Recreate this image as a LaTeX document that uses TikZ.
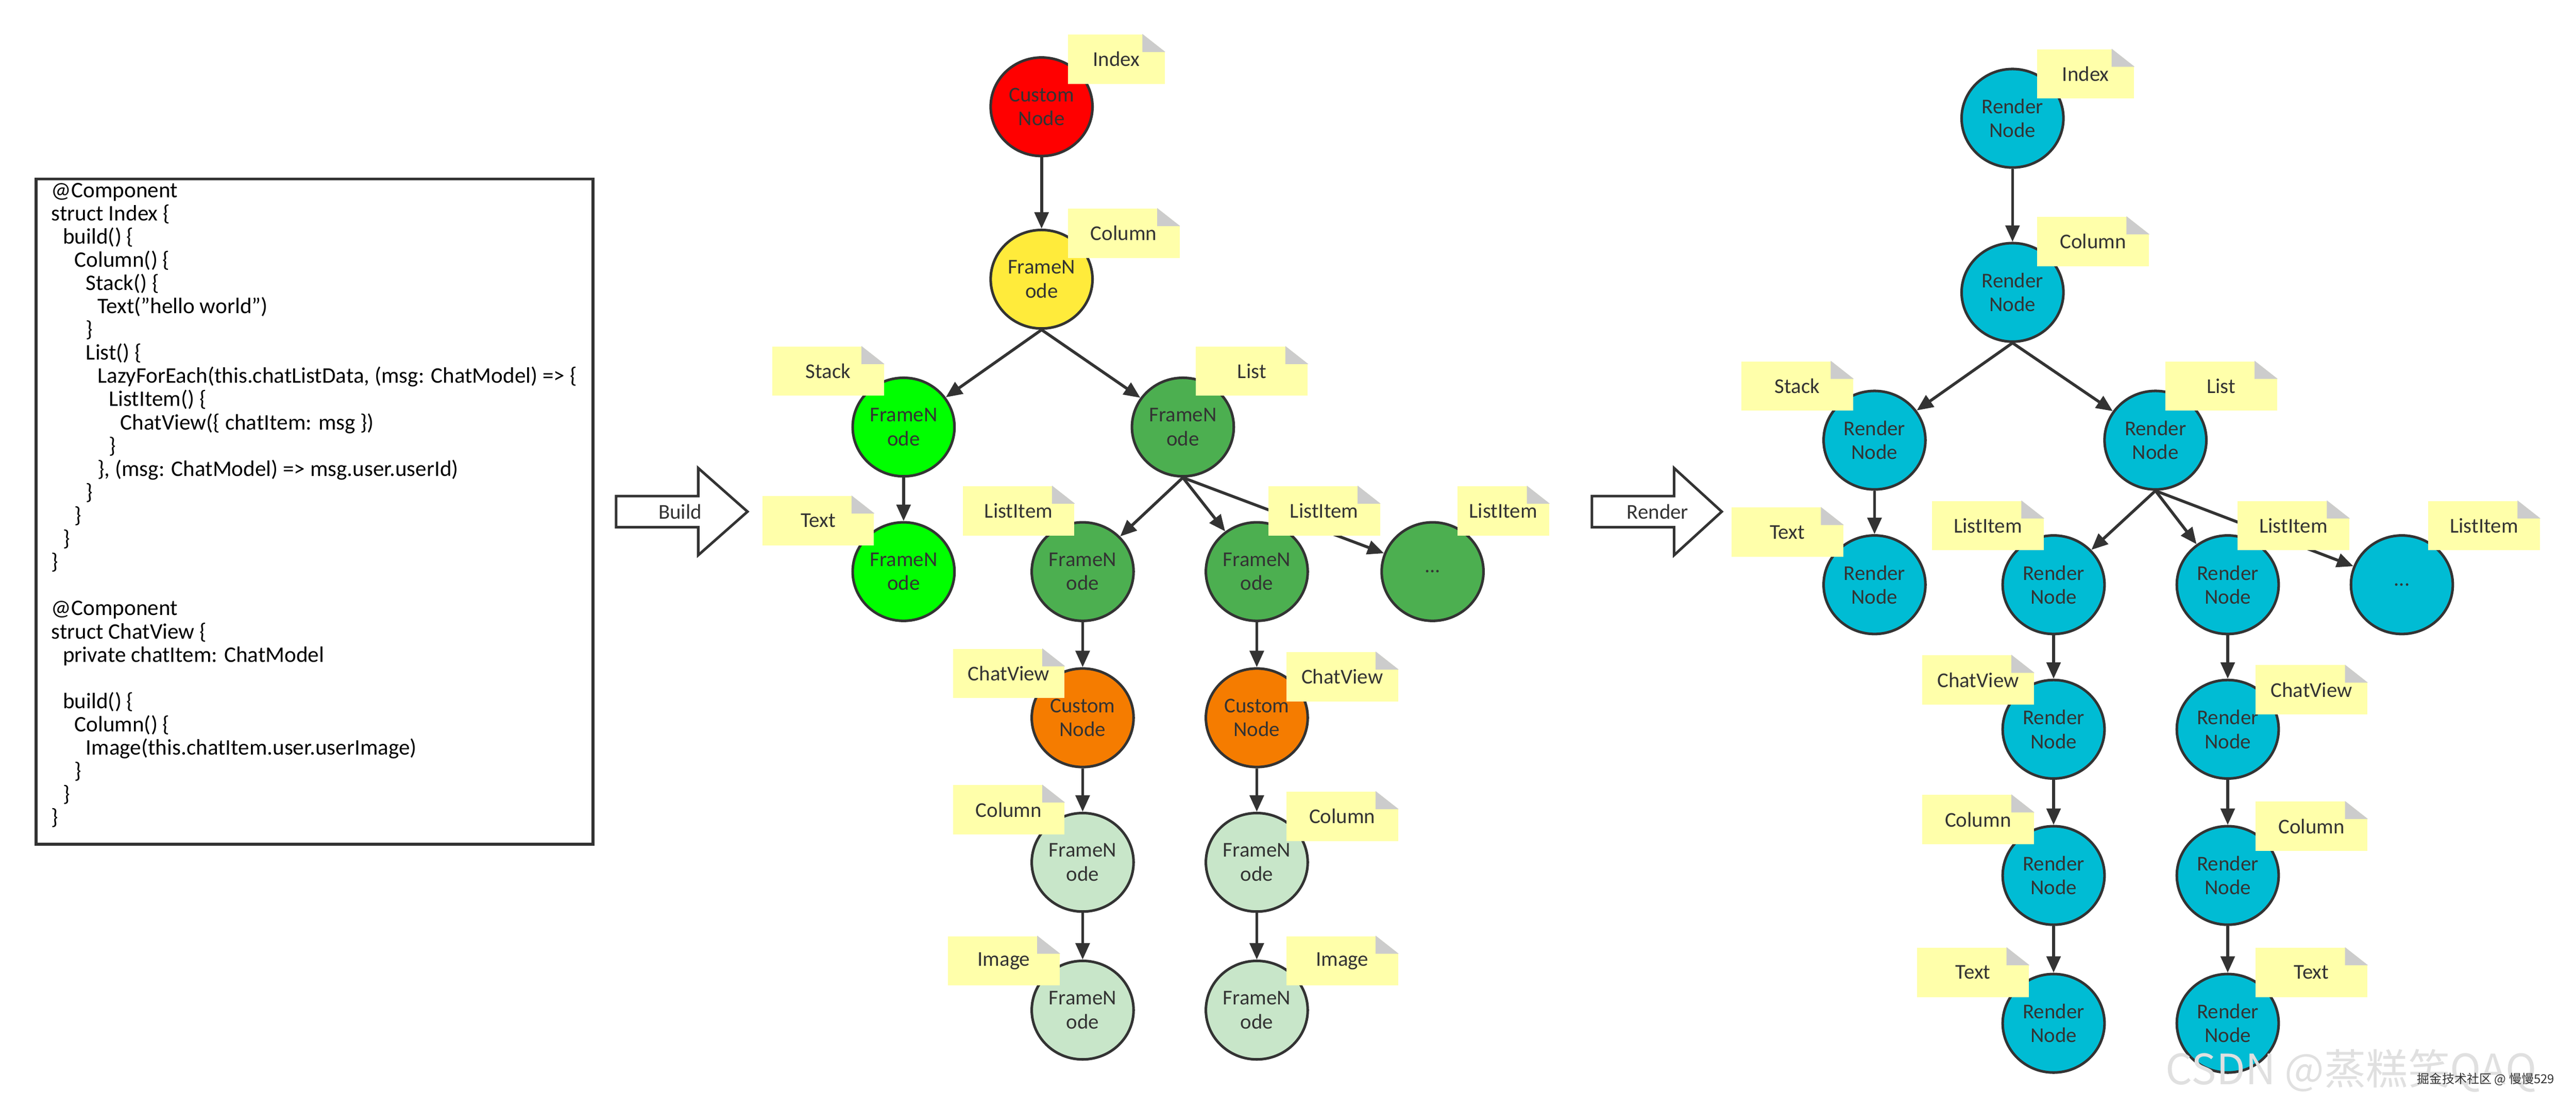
\documentclass[tikz,border=0pt]{standalone}
\usepackage{fontspec}
\setmainfont{Carlito}
\newfontfamily\cjk{Noto Sans CJK SC}
\usetikzlibrary{shapes.geometric,arrows.meta,calc}
\definecolor{ln}{HTML}{333333}
\definecolor{notey}{HTML}{FFFFAA}
\definecolor{fold}{HTML}{CCCCCC}
\definecolor{cred}{HTML}{FF0000}
\definecolor{cyel}{HTML}{FFEB3B}
\definecolor{cbg}{HTML}{00FF00}
\definecolor{cdg}{HTML}{4CAF50}
\definecolor{cor}{HTML}{F57C00}
\definecolor{clg}{HTML}{C8E6C9}
\definecolor{ccy}{HTML}{00BCD4}
\tikzset{
 nd/.style={ellipse,draw=ln,line width=0.9pt,minimum width=1.24cm,minimum height=1.2cm,inner sep=0pt,align=center,text=ln,font=\fontsize{7.3}{8.3}\selectfont},
 nt/.style={fill=notey,minimum width=#1,minimum height=0.6cm,inner sep=0pt,text=ln,font=\fontsize{7.3}{8.3}\selectfont},
 nt/.default=1.36cm,
 ar/.style={-{Triangle[length=0.2cm,width=0.17cm]},draw=ln,line width=1pt},
 blk/.style={draw=ln,line width=0.9pt,fill=white}
}
\newcommand\fld[1]{\fill[white] ($(#1.north east)+(-14,0)$)--(#1.north east)--($(#1.north east)+(0,11)$)--cycle;
 \fill[fold] ($(#1.north east)+(-14,0)$)--($(#1.north east)+(-14,11)$)--($(#1.north east)+(0,11)$)--cycle;}
\begin{document}
\begin{tikzpicture}[x=0.02cm,y=-0.02cm]
\useasboundingbox (0,0) rectangle (1568,675.7);
% code box
\node[draw=ln,line width=1pt,minimum width=339*0.02cm,minimum height=405*0.02cm,inner sep=0pt] (code) at (191.5,311.5) {};
\node[anchor=north west,align=left,inner sep=0pt,text=black,font=\fontsize{7.7}{8.05}\selectfont] (codetxt) at (31,111) {%
@Component\\
struct Index \{\\
\hspace*{0.14cm}build() \{\\
\hspace*{0.28cm}Column() \{\\
\hspace*{0.42cm}Stack() \{\\
\hspace*{0.56cm}Text("hello world")\\
\hspace*{0.42cm}\}\\
\hspace*{0.42cm}List() \{\\
\hspace*{0.56cm}LazyForEach(this.chatListData, (msg: ChatModel) => \{\\
\hspace*{0.70cm}ListItem() \{\\
\hspace*{0.84cm}ChatView(\{ chatItem: msg \})\\
\hspace*{0.70cm}\}\\
\hspace*{0.56cm}\}, (msg: ChatModel) => msg.user.userId)\\
\hspace*{0.42cm}\}\\
\hspace*{0.28cm}\}\\
\hspace*{0.14cm}\}\\
\}\\[8.05pt]
@Component\\
struct ChatView \{\\
\hspace*{0.14cm}private chatItem: ChatModel\\[8.05pt]
\hspace*{0.14cm}build() \{\\
\hspace*{0.28cm}Column() \{\\
\hspace*{0.42cm}Image(this.chatItem.user.userImage)\\
\hspace*{0.28cm}\}\\
\hspace*{0.14cm}\}\\
\}};
% block arrows
\draw[blk] (375,302)--(425,302)--(425,285)--(455,311.5)--(425,338)--(425,321)--(375,321)--cycle;
\node[text=ln,font=\fontsize{7.3}{8.3}\selectfont] (build) at (414,311.5) {Build};
\draw[blk] (969,302)--(1019,302)--(1019,285)--(1048,311.5)--(1019,338)--(1019,321)--(969,321)--cycle;
\node[text=ln,font=\fontsize{7.3}{8.3}\selectfont] (render) at (1009,311.5) {Render};
% left tree
\node[nd,fill=cred] (a1) at (634,65) {Custom\\Node};
\node[nd,fill=cyel] (a2) at (634,170) {FrameN\\ode};
\node[nd,fill=cbg] (a3) at (550,260) {FrameN\\ode};
\node[nd,fill=cdg] (a4) at (720,260) {FrameN\\ode};
\node[nd,fill=cbg] (a5) at (550,348) {FrameN\\ode};
\node[nd,fill=cdg] (a6) at (659,348) {FrameN\\ode};
\node[nd,fill=cdg] (a7) at (765,348) {FrameN\\ode};
\node[nd,fill=cdg] (a8) at (872,348) {...};
\node[nd,fill=cor] (a9) at (659,437) {Custom\\Node};
\node[nd,fill=cor] (a10) at (765,437) {Custom\\Node};
\node[nd,fill=clg] (a11) at (659,525) {FrameN\\ode};
\node[nd,fill=clg] (a12) at (765,525) {FrameN\\ode};
\node[nd,fill=clg] (a13) at (659,615) {FrameN\\ode};
\node[nd,fill=clg] (a14) at (765,615) {FrameN\\ode};
\draw[ar] (a1)--(a2); \draw[ar] (a2.south)--(a3); \draw[ar] (a2.south)--(a4);
\draw[ar] (a3)--(a5); \draw[ar] (a4.south)--(a6); \draw[ar] (a4.south)--(a7); \draw[ar] (a4.south)--(a8);
\draw[ar] (a6)--(a9); \draw[ar] (a7)--(a10); \draw[ar] (a9)--(a11); \draw[ar] (a10)--(a12);
\draw[ar] (a11)--(a13); \draw[ar] (a12)--(a14);
% right tree
\node[nd,fill=ccy] (b1) at (1225,72) {Render\\Node};
\node[nd,fill=ccy] (b2) at (1225,178) {Render\\Node};
\node[nd,fill=ccy] (b3) at (1141,268) {Render\\Node};
\node[nd,fill=ccy] (b4) at (1312,268) {Render\\Node};
\node[nd,fill=ccy] (b5) at (1141,356) {Render\\Node};
\node[nd,fill=ccy] (b6) at (1250,356) {Render\\Node};
\node[nd,fill=ccy] (b7) at (1356,356) {Render\\Node};
\node[nd,fill=ccy] (b8) at (1462,356) {...};
\node[nd,fill=ccy] (b9) at (1250,444) {Render\\Node};
\node[nd,fill=ccy] (b10) at (1356,444) {Render\\Node};
\node[nd,fill=ccy] (b11) at (1250,533) {Render\\Node};
\node[nd,fill=ccy] (b12) at (1356,533) {Render\\Node};
\node[nd,fill=ccy] (b13) at (1250,623) {Render\\Node};
\node[nd,fill=ccy] (b14) at (1356,623) {Render\\Node};
\draw[ar] (b1)--(b2); \draw[ar] (b2.south)--(b3); \draw[ar] (b2.south)--(b4);
\draw[ar] (b3)--(b5); \draw[ar] (b4.south)--(b6); \draw[ar] (b4.south)--(b7); \draw[ar] (b4.south)--(b8);
\draw[ar] (b6)--(b9); \draw[ar] (b7)--(b10); \draw[ar] (b9)--(b11); \draw[ar] (b10)--(b12);
\draw[ar] (b11)--(b13); \draw[ar] (b12)--(b14);
% notes left
\node[nt=1.18cm] (n1) at (679.5,36) {Index}; \fld{n1}
\node[nt] (n2) at (684,142) {Column}; \fld{n2}
\node[nt] (n3) at (504,226) {Stack}; \fld{n3}
\node[nt] (n4) at (762,226) {List}; \fld{n4}
\node[nt] (n5) at (498,317) {Text}; \fld{n5}
\node[nt] (n6) at (620,311) {ListItem}; \fld{n6}
\node[nt] (n7) at (806,311) {ListItem}; \fld{n7}
\node[nt=1.12cm] (n8) at (915,311) {ListItem}; \fld{n8}
\node[nt] (n9) at (614,410) {ChatView}; \fld{n9}
\node[nt] (n10) at (817,412) {ChatView}; \fld{n10}
\node[nt] (n11) at (614,493) {Column}; \fld{n11}
\node[nt] (n12) at (817,497) {Column}; \fld{n12}
\node[nt] (n13) at (611,585) {Image}; \fld{n13}
\node[nt] (n14) at (817,585) {Image}; \fld{n14}
% notes right
\node[nt=1.18cm] (m1) at (1269.5,45) {Index}; \fld{m1}
\node[nt] (m2) at (1274,147) {Column}; \fld{m2}
\node[nt] (m3) at (1094,235) {Stack}; \fld{m3}
\node[nt] (m4) at (1352,235) {List}; \fld{m4}
\node[nt] (m5) at (1088,324) {Text}; \fld{m5}
\node[nt] (m6) at (1210,320) {ListItem}; \fld{m6}
\node[nt] (m7) at (1396,320) {ListItem}; \fld{m7}
\node[nt] (m8) at (1512,320) {ListItem}; \fld{m8}
\node[nt] (m9) at (1204,414) {ChatView}; \fld{m9}
\node[nt] (m10) at (1407,420) {ChatView}; \fld{m10}
\node[nt] (m11) at (1204,499) {Column}; \fld{m11}
\node[nt] (m12) at (1407,503) {Column}; \fld{m12}
\node[nt] (m13) at (1201,592) {Text}; \fld{m13}
\node[nt] (m14) at (1407,592) {Text}; \fld{m14}
% watermark
\node[anchor=west,inner sep=0pt,text=black!12,font=\cjk\fontsize{14.5}{14.5}\selectfont] (wm) at (1318,652) {CSDN @蒸糕笑QAQ};
\node[anchor=west,inner sep=0pt,text=ln,font=\cjk\fontsize{4.3}{4.3}\selectfont] (wm2) at (1471,657) {掘金技术社区 @ 慢慢529};
\end{tikzpicture}
\end{document}
